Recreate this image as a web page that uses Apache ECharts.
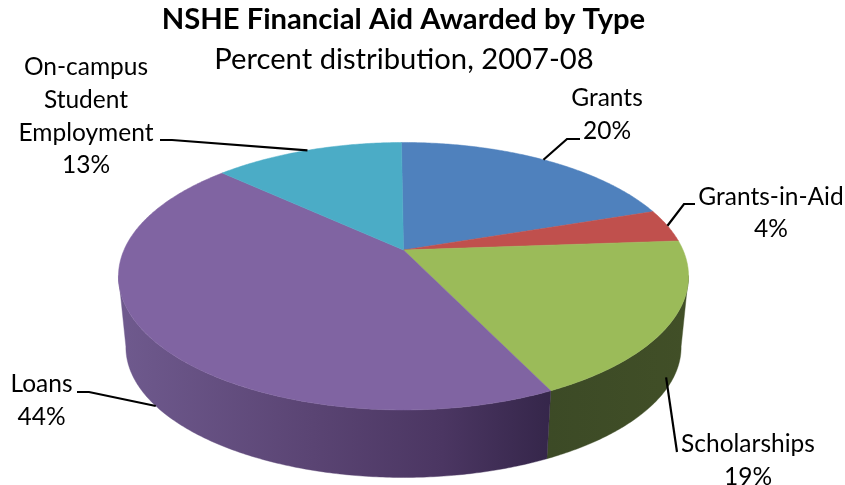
<!DOCTYPE html>
<html>
<head>
<meta charset="utf-8">
<style>html,body{margin:0;padding:0;background:#fff}#chart{width:845px;height:485px}</style>
<script src="https://cdn.jsdelivr.net/npm/echarts@6/dist/echarts.min.js"></script>
</head>
<body>
<div id="chart"></div>
<script>
// Share of aid by type, clockwise from twelve o'clock
const categories = ['Grants', 'Grants-in-Aid', 'Scholarships', 'Loans', 'On-campus\nStudent\nEmployment'];
const shares = [20, 4, 19, 44, 13];
const topColors = ['#4f81bd', '#c0504d', '#9bbb59', '#8064a2', '#4bacc6'];

const FONT = 'Lato, Carlito, "Open Sans", sans-serif';

// Tilted-disc projection of the pie
const disc = { cx: 403.5, cy: 250, halfWidth: 279.5, halfDepth: 128.6, persp: 0.196,
               midY: 276, floorY: 347, floorScale: 0.974, turn: -0.5 * Math.PI / 180 };

// Label centres, leader elbows and where on the side wall each leader lands
const labelLayout = [
  { at: [607, 114.5], elbow: [[580, 139], [567, 139]], wall: 0 },
  { at: [771, 213], elbow: [[695, 204], [684, 204]], wall: 0 },
  { at: [748, 460.5], elbow: [[677, 452]], wall: 0.8 },
  { at: [41.5, 400.5], elbow: [[77, 392], [89, 392]], wall: 1 },
  { at: [86, 116.5], elbow: [[160, 140], [172, 140]], wall: 0 }
];

const total = shares.reduce((a, b) => a + b, 0);
const startOf = i => disc.turn + shares.slice(0, i).reduce((a, b) => a + b, 0) / total * 2 * Math.PI;

function rim(theta) {
  const u = Math.sin(theta), v = Math.cos(theta), w = 1 + disc.persp * v;
  return [disc.cx + disc.halfWidth * u / w, disc.cy - disc.halfDepth * v / w];
}
function floor(theta) {
  const p = rim(theta);
  return [disc.cx + (p[0] - disc.cx) * disc.floorScale,
          disc.floorY + (p[1] - disc.midY) * disc.floorScale];
}
function arc(fn, a, b) {
  const n = Math.max(2, Math.ceil(Math.abs(b - a) / 0.01)), pts = [];
  for (let i = 0; i <= n; i++) pts.push(fn(a + (b - a) * i / n));
  return pts;
}

// Side wall runs between the two silhouette angles of the disc
const WALL_FROM = 101 * Math.PI / 180, WALL_TO = 259 * Math.PI / 180;
const wallFills = [
  '#2f4a70', '#72302e',
  new echarts.graphic.LinearGradient(0, 0, 1, 0, [
    { offset: 0, color: '#3c4a26' }, { offset: 1, color: '#414f27' }]),
  new echarts.graphic.LinearGradient(0, 0, 1, 0, [
    { offset: 0, color: '#6f5a8e' }, { offset: 0.45, color: '#5a4473' },
    { offset: 0.75, color: '#4b3662' }, { offset: 1, color: '#35264a' }]),
  '#2d6676'
];

const pieData = shares.map((v, i) => ({ name: categories[i], value: v }));

function renderWall(params) {
  const i = params.dataIndex;
  const a = Math.max(startOf(i), WALL_FROM), b = Math.min(startOf(i + 1), WALL_TO);
  if (b <= a) return null;
  return {
    type: 'polygon',
    shape: { points: arc(rim, a, b).concat(arc(floor, b, a)) },
    style: { fill: wallFills[i], stroke: wallFills[i], lineWidth: 0.4 }
  };
}
function renderTop(params) {
  const i = params.dataIndex;
  return {
    type: 'polygon',
    shape: { points: [[disc.cx, disc.cy]].concat(arc(rim, startOf(i), startOf(i + 1))) },
    style: { fill: topColors[i], stroke: topColors[i], lineWidth: 0.5 }
  };
}
function renderLabel(params, api) {
  const i = params.dataIndex, l = labelLayout[i];
  const mid = (startOf(i) + startOf(i + 1)) / 2;
  const p = rim(mid), q = floor(mid);
  const anchor = [p[0] + (q[0] - p[0]) * l.wall, p[1] + (q[1] - p[1]) * l.wall];
  return {
    type: 'group',
    children: [
      { type: 'polyline', shape: { points: l.elbow.concat([anchor]) },
        style: { fill: null, stroke: '#000', lineWidth: 2.2 } },
      { type: 'text',
        style: { text: categories[i] + '\n' + api.value(0) + '%', x: l.at[0], y: l.at[1],
                 align: 'center', verticalAlign: 'middle', fill: '#000',
                 font: '24.5px ' + FONT, lineHeight: 32.7 } }
    ]
  };
}

const chart = echarts.init(document.getElementById('chart'), null, { renderer: 'canvas' });
chart.setOption({
  animation: false,
  backgroundColor: '#fff',
  tooltip: { show: false },
  title: [
    { text: 'NSHE Financial Aid Awarded by Type', left: 403.5, top: 5, padding: 0, textAlign: 'center',
      textStyle: { fontFamily: FONT, fontSize: 29.2, fontWeight: 'bold', color: '#000' } },
    { text: 'Percent distribution, 2007-08', left: 404, top: 45, padding: 0, textAlign: 'center',
      textStyle: { fontFamily: FONT, fontSize: 29.2, fontWeight: 'normal', color: '#000' } }
  ],
  series: [
    { type: 'custom', coordinateSystem: 'none', silent: true, z: 1, renderItem: renderWall, data: pieData },
    { type: 'custom', coordinateSystem: 'none', silent: true, z: 2, renderItem: renderTop, data: pieData },
    { type: 'custom', coordinateSystem: 'none', silent: true, z: 3, renderItem: renderLabel, data: pieData }
  ]
});
</script>
</body>
</html>
